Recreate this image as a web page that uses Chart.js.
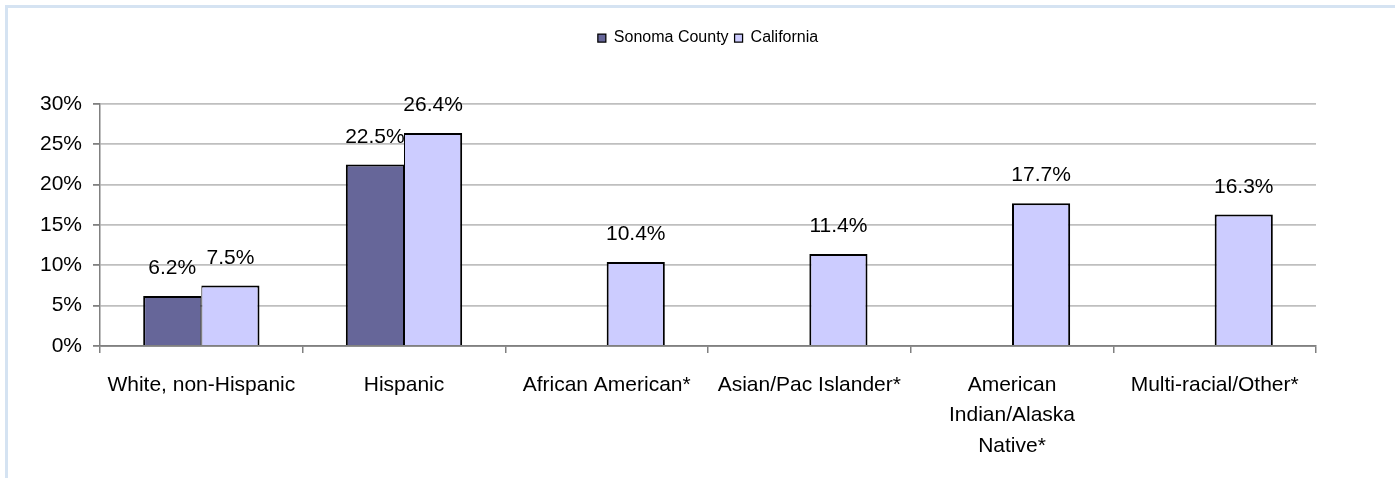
<!DOCTYPE html>
<html>
<head>
<meta charset="utf-8">
<title>Sonoma County vs California</title>
<script src="https://cdn.jsdelivr.net/npm/chart.js@4/dist/chart.umd.min.js"></script>
<style>
  html, body { margin: 0; padding: 0; background: #fff; }
  #frame {
    position: absolute; left: 5px; top: 5px; right: 0; bottom: 0;
    border-top: 3px solid #d5e3f2; border-left: 3px solid #d5e3f2;
  }
  #wrap { position: absolute; left: 0; top: 0; width: 1395px; height: 478px; }
</style>
</head>
<body>
<div id="frame"></div>
<div id="wrap"><canvas id="raceChart" width="1395" height="478"></canvas></div>
<script>
// --- data ---
const categories = [
    'White, non-Hispanic',
    'Hispanic',
    'African American*',
    'Asian/Pac Islander*',
    ['American', 'Indian/Alaska', 'Native*'],
    'Multi-racial/Other*'
];
const sonomaValues = [6.2, 22.5, null, null, null, null];
const californiaValues = [7.5, 26.4, 10.4, 11.4, 17.7, 16.3];
const yMin = 0;
const yMax = 30;
const yStep = 5;

const FONT = '"Liberation Sans", Arial, sans-serif';

// value labels above each bar
const valueLabels = {
    id: 'valueLabels',
    afterDatasetsDraw(chart) {
        const ctx = chart.ctx;
        ctx.save();
        ctx.font = '21px ' + FONT;
        ctx.fillStyle = '#000';
        ctx.textAlign = 'center';
        ctx.textBaseline = 'alphabetic';
        chart.data.datasets.forEach((ds, i) => {
            chart.getDatasetMeta(i).data.forEach((bar, j) => {
                if (ds.data[j] == null) return;
                ctx.fillText(ds.data[j].toFixed(1) + '%', bar.x, bar.y - 22);
            });
        });
        ctx.restore();
    }
};

// extra room under the legend
const legendGap = {
    id: 'legendGap',
    beforeInit(chart) {
        const fit = chart.legend.fit;
        chart.legend.fit = function () {
            fit.bind(this)();
            this.height += 48;
        };
    }
};

const ctx = document.getElementById('raceChart').getContext('2d');
const raceChart = new Chart(ctx, {
    type: 'bar',
    data: {
        labels: categories,
        datasets: [{
            label: 'Sonoma County',
            data: sonomaValues,
            backgroundColor: '#666699',
            borderColor: '#000',
            borderWidth: { top: 2, left: 2, right: 1, bottom: 0 },
            categoryPercentage: 0.574,
            barPercentage: 1.0
        }, {
            label: 'California',
            data: californiaValues,
            backgroundColor: '#ccccff',
            borderColor: '#000',
            borderWidth: c => ({
                top: 2, right: 2, bottom: 0,
                left: (c.dataIndex !== undefined && sonomaValues[c.dataIndex] != null) ? 1 : 2
            }),
            categoryPercentage: 0.574,
            barPercentage: 1.0
        }]
    },
    options: {
        responsive: false,
        animation: false,
        layout: { padding: { top: 24, right: 79, left: 0, bottom: 0 } },
        plugins: {
            legend: {
                position: 'top',
                fullSize: false,
                labels: {
                    color: '#000',
                    font: { family: FONT, size: 16 },
                    boxWidth: 8,
                    boxHeight: 8,
                    padding: 6
                }
            },
            tooltip: { enabled: false }
        },
        scales: {
            x: {
                afterFit(scale) { scale.height = 132; },
                grid: {
                    drawOnChartArea: false,
                    drawTicks: true,
                    tickLength: 7,
                    tickColor: '#808080',
                    lineWidth: 1.5
                },
                border: { color: '#808080', width: 1.5 },
                ticks: {
                    color: '#000',
                    font: { family: FONT, size: 21, lineHeight: 1.45 },
                    padding: 17,
                    maxRotation: 0,
                    autoSkip: false
                }
            },
            y: {
                min: yMin,
                max: yMax,
                afterFit(scale) { scale.width = 100; },
                grid: {
                    color: c => c.tick && c.tick.value === 0 ? '#808080' : '#bfbfbf',
                    lineWidth: 1.8,
                    tickLength: 7,
                    tickColor: '#808080'
                },
                border: { color: '#808080', width: 1.5 },
                ticks: {
                    stepSize: yStep,
                    color: '#000',
                    font: { family: FONT, size: 21 },
                    padding: 11,
                    callback: v => v + '%'
                }
            }
        }
    },
    plugins: [valueLabels, legendGap]
});
</script>
</body>
</html>
